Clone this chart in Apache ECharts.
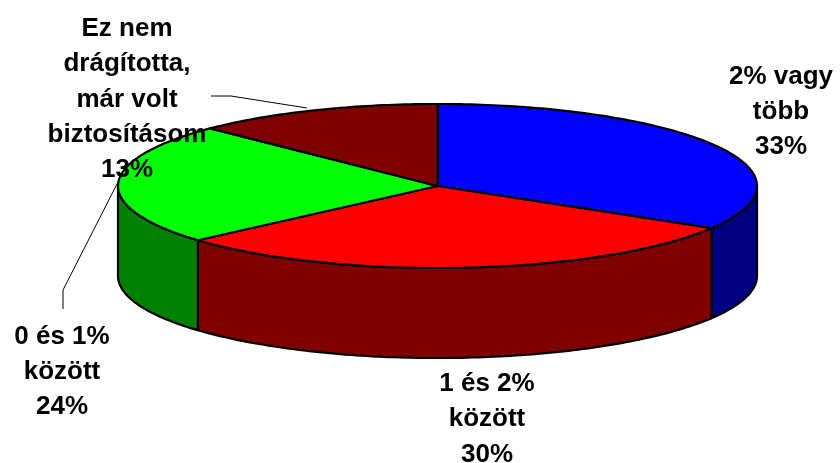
<!DOCTYPE html>
<html>
<head>
<meta charset="utf-8">
<style>
html,body{margin:0;padding:0;background:#fff;}
#main{width:840px;height:463px;}
</style>
<script src="https://cdn.jsdelivr.net/npm/echarts@6/dist/echarts.min.js"></script>
</head>
<body>
<div id="main"></div>
<script>
var categories = ["2% vagy\ntöbb", "1 és 2%\nközött", "0 és 1%\nközött", "Ez nem\ndrágította,\nmár volt\nbiztosításom"];
var percentLabels = ["33%", "30%", "24%", "13%"];
var values = [33.6, 29.9, 23.9, 12.6];
var topColors = ["#0000FF", "#FF0000", "#00FF00", "#800000"];
var sideColors = ["#000080", "#800000", "#008000", "#800000"];

// pie geometry, pixels
var cx = 437.5, cy = 186, rx = 319.5, ry = 82, depth = 90;
// label centre and middle of its first line
var labelPos = [[781, 76.5], [487, 384], [62, 336.5], [127, 29]];
var lineHeight = 35.3;
// leader lines (only two labels have one)
var leaders = [null, null, [[118, 182], [63, 290], [63, 309]], [[211, 96], [231, 96], [307, 108]]];

var total = 0;
for (var i = 0; i < values.length; i++) total += values[i];

function ellipsePoint(t, dy) {
    return [cx + rx * Math.sin(t), cy - ry * Math.cos(t) + (dy || 0)];
}

function arcPoints(a, b, dy) {
    var pts = [];
    var n = Math.max(2, Math.ceil(Math.abs(b - a) / (Math.PI / 180)));
    for (var i = 0; i <= n; i++) {
        pts.push(ellipsePoint(a + (b - a) * i / n, dy));
    }
    return pts;
}

function renderSlice(params, api) {
    var idx = params.dataIndex;
    var before = 0;
    for (var i = 0; i < idx; i++) before += values[i];
    var a = before / total * Math.PI * 2;
    var b = (before + api.value(0)) / total * Math.PI * 2;
    var children = [];

    // side wall, only the part facing the viewer (90deg to 270deg)
    var sa = Math.max(a, Math.PI / 2), sb = Math.min(b, Math.PI * 1.5);
    if (sb > sa) {
        var upper = arcPoints(sa, sb, 0);
        var lower = arcPoints(sb, sa, depth);
        children.push({
            type: "polygon",
            z2: 1,
            shape: {points: upper.concat(lower)},
            style: {fill: sideColors[idx], stroke: "#000", lineWidth: 2.2, lineJoin: "round"}
        });
    }

    // top face
    children.push({
        type: "polygon",
        z2: 2,
        shape: {points: [[cx, cy]].concat(arcPoints(a, b, 0))},
        style: {fill: topColors[idx], stroke: "#000", lineWidth: 2.2, lineJoin: "round"}
    });

    if (leaders[idx]) {
        children.push({
            type: "polyline",
            z2: 3,
            shape: {points: leaders[idx]},
            style: {fill: null, stroke: "#000", lineWidth: 1}
        });
    }

    var lines = (categories[idx] + "\n" + percentLabels[idx]).split("\n");
    for (var j = 0; j < lines.length; j++) {
        children.push({
            type: "text",
            z2: 4,
            x: labelPos[idx][0],
            y: labelPos[idx][1] + j * lineHeight,
            style: {
                text: lines[j],
                fill: "#000",
                font: "bold 26px 'Liberation Sans', Arial, sans-serif",
                align: "center",
                verticalAlign: "middle"
            }
        });
    }
    return {type: "group", children: children};
}

var chart = echarts.init(document.getElementById("main"));
chart.setOption({
    animation: false,
    backgroundColor: "#fff",
    series: [{
        type: "custom",
        coordinateSystem: "none",
        renderItem: renderSlice,
        data: values.map(function (v) { return [v]; })
    }]
});
</script>
</body>
</html>
